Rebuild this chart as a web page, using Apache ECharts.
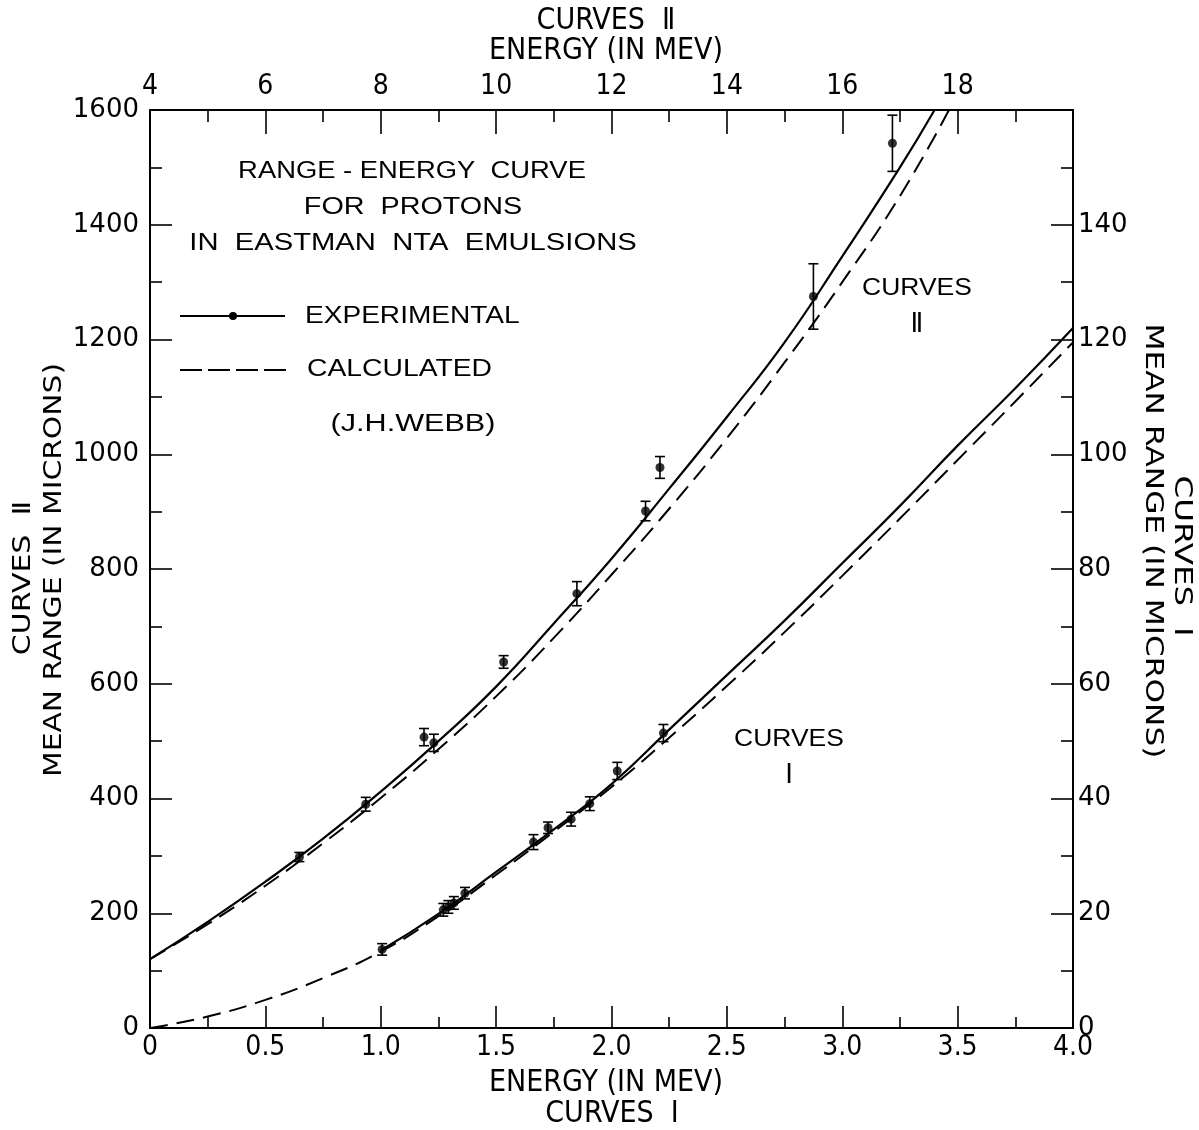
<!DOCTYPE html>
<html>
<head>
<meta charset="utf-8">
<script src="https://cdn.jsdelivr.net/npm/echarts@6/dist/echarts.min.js"></script>
<style>
html,body{margin:0;padding:0;background:#fff;}
#chart{width:1199px;height:1130px;}
</style>
</head>
<body>
<div id="chart"></div>
<script>
// ---------- DATA ----------
// Curves I : bottom energy axis (0-4 MeV), right range axis (0-160 microns)
const expI_E   = [1.006, 1.271, 1.293, 1.317, 1.365, 1.662, 1.725, 1.825, 1.906, 2.025, 2.225];
const expI_R   = [13.7, 20.6, 21.1, 21.8, 23.5, 32.4, 34.9, 36.4, 39.1, 44.8, 51.4];
const expI_err = [1.0, 1.1, 1.1, 1.1, 1.0, 1.3, 1.0, 1.2, 1.2, 1.5, 1.5];

const fitI_E = [1.0, 1.25, 1.5, 1.75, 2.0, 2.25, 2.5, 2.75, 3.0, 3.25, 3.5, 3.75, 4.0];
const fitI_R = [13.5, 19.9, 27.2, 34.6, 42.5, 52.0, 61.5, 71.0, 81.0, 91.0, 101.5, 111.5, 122.0];

const calcI_E = [0, 0.25, 0.5, 0.75, 1.0, 1.25, 1.5, 1.75, 2.0, 2.25, 2.5, 2.75, 3.0, 3.25, 3.5, 3.75, 4.0];
const calcI_R = [0, 2.0, 4.9, 8.7, 13.3, 19.5, 26.7, 34.2, 42.0, 50.6, 59.6, 69.0, 78.8, 88.8, 99.0, 109.2, 119.5];

// Curves II : top energy axis (4-20 MeV), left range axis (0-1600 microns)
const expII_E   = [6.59, 7.74, 8.75, 8.92, 10.13, 11.40, 12.59, 12.84, 15.50, 16.87];
const expII_R   = [298, 390, 507, 497, 638, 757, 901, 977, 1275, 1542];
const expII_err = [8, 12, 15, 15, 11, 21, 17, 19, 57, 49];

const fitII_E = [4, 5, 6, 7, 8, 9, 10, 11, 12, 13, 14, 15, 16, 17, 17.6];
const fitII_R = [120, 185, 255, 330, 412, 500, 595, 705, 818, 940, 1065, 1195, 1345, 1500, 1600];

const calcII_E = [4, 5, 6, 7, 8, 9, 10, 11, 12, 13, 14, 15, 16, 17, 17.85];
const calcII_R = [120, 181, 248, 322, 401, 486, 578, 680, 790, 905, 1028, 1160, 1300, 1450, 1600];

// tick labels
const bottomTicks = ['0', '0.5', '1.0', '1.5', '2.0', '2.5', '3.0', '3.5', '4.0'];
const topTicks = ['4', '6', '8', '10', '12', '14', '16', '18', ''];
const leftTicks = ['0', '200', '400', '600', '800', '1000', '1200', '1400', '1600'];
const rightTicks = ['0', '20', '40', '60', '80', '100', '120', '140', ''];

// ---------- CHART ----------
const zip = (a, b) => a.map((v, i) => [v, b[i]]);
const errData = (E, R, e) => E.map((v, i) => [v, R[i] - e[i], R[i] + e[i]]);

const geo = "'DejaVu Sans', 'Noto Sans', sans-serif";
const cond = "'DejaVu Sans Condensed', 'Liberation Sans Narrow', 'Liberation Sans', sans-serif";
const lett = "'Liberation Sans', 'DejaVu Sans', sans-serif";

function errRender(params, api) {
  const x = api.value(0);
  const lo = api.coord([x, api.value(1)]);
  const hi = api.coord([x, api.value(2)]);
  const w = 5;
  const st = { stroke: '#000', lineWidth: 1.6 };
  return {
    type: 'group',
    children: [
      { type: 'line', shape: { x1: lo[0], y1: lo[1], x2: hi[0], y2: hi[1] }, style: st },
      { type: 'line', shape: { x1: lo[0] - w, y1: lo[1], x2: lo[0] + w, y2: lo[1] }, style: st },
      { type: 'line', shape: { x1: hi[0] - w, y1: hi[1], x2: hi[0] + w, y2: hi[1] }, style: st }
    ]
  };
}

const axLine = { show: true, onZero: false, lineStyle: { color: '#000', width: 2 } };
const tick = (len) => ({ show: true, inside: true, length: len, lineStyle: { color: '#000', width: 1.6 } });
const minor = (len) => ({ show: true, splitNumber: 2, length: len, lineStyle: { color: '#000', width: 1.6 } });

const chart = echarts.init(document.getElementById('chart'), null, { renderer: 'canvas' });

function txt(x, y, s, font, opts) {
  return Object.assign({ type: 'text', x: x, y: y,
    style: { text: s, font: font, fill: '#000', align: 'center', verticalAlign: 'middle' } }, opts || {});
}

const option = {
  backgroundColor: '#fff',
  animation: false,
  grid: { left: 150, right: 126, top: 110, bottom: 102, containLabel: false },
  xAxis: [
    {
      type: 'value', position: 'bottom', min: 0, max: 4, interval: 0.5,
      axisLine: axLine, axisTick: tick(22), minorTick: minor(11), splitLine: { show: false },
      axisLabel: { color: '#000', fontFamily: cond, fontSize: 28, margin: 6,
        formatter: (v) => bottomTicks[Math.round(v / 0.5)] }
    },
    {
      type: 'value', position: 'top', min: 4, max: 20, interval: 2,
      axisLine: axLine, axisTick: tick(24), minorTick: minor(12), splitLine: { show: false },
      axisLabel: { color: '#000', fontFamily: cond, fontSize: 28, margin: 9,
        formatter: (v) => topTicks[Math.round((v - 4) / 2)] }
    }
  ],
  yAxis: [
    {
      type: 'value', position: 'left', min: 0, max: 1600, interval: 200,
      axisLine: axLine, axisTick: tick(22), minorTick: minor(12), splitLine: { show: false },
      axisLabel: { color: '#000', fontFamily: geo, fontSize: 26, margin: 11,
        formatter: (v) => leftTicks[Math.round(v / 200)] }
    },
    {
      type: 'value', position: 'right', min: 0, max: 160, interval: 20,
      axisLine: axLine, axisTick: tick(22), minorTick: minor(12), splitLine: { show: false },
      axisLabel: { color: '#000', fontFamily: geo, fontSize: 26, margin: 5,
        formatter: (v) => rightTicks[Math.round(v / 20)] }
    }
  ],
  series: [
    { name: 'calcI', type: 'line', xAxisIndex: 0, yAxisIndex: 1, data: zip(calcI_E, calcI_R),
      smooth: true, showSymbol: false, clip: true,
      lineStyle: { color: '#000', width: 2, type: [18, 9] } },
    { name: 'fitI', type: 'line', xAxisIndex: 0, yAxisIndex: 1, data: zip(fitI_E, fitI_R),
      smooth: true, showSymbol: false, clip: true,
      lineStyle: { color: '#000', width: 2.2 } },
    { name: 'calcII', type: 'line', xAxisIndex: 1, yAxisIndex: 0, data: zip(calcII_E, calcII_R),
      smooth: true, showSymbol: false, clip: true,
      lineStyle: { color: '#000', width: 2, type: [18, 9] } },
    { name: 'fitII', type: 'line', xAxisIndex: 1, yAxisIndex: 0, data: zip(fitII_E, fitII_R),
      smooth: true, showSymbol: false, clip: true,
      lineStyle: { color: '#000', width: 2.2 } },
    { name: 'errI', type: 'custom', xAxisIndex: 0, yAxisIndex: 1, renderItem: errRender,
      data: errData(expI_E, expI_R, expI_err), encode: { x: 0, y: [1, 2] }, z: 5 },
    { name: 'errII', type: 'custom', xAxisIndex: 1, yAxisIndex: 0, renderItem: errRender,
      data: errData(expII_E, expII_R, expII_err), encode: { x: 0, y: [1, 2] }, z: 5 },
    { name: 'expI', type: 'scatter', xAxisIndex: 0, yAxisIndex: 1, data: zip(expI_E, expI_R),
      symbol: 'circle', symbolSize: 9, itemStyle: { color: '#000' }, z: 6 },
    { name: 'expII', type: 'scatter', xAxisIndex: 1, yAxisIndex: 0, data: zip(expII_E, expII_R),
      symbol: 'circle', symbolSize: 9, itemStyle: { color: '#000' }, z: 6 }
  ],
  graphic: [
    // axis titles (top / bottom)
    txt(606, 21, 'CURVES  Ⅱ', '30px ' + cond),
    txt(606, 51, 'ENERGY (IN MEV)', '30px ' + cond),
    txt(606, 1083, 'ENERGY (IN MEV)', '30px ' + cond),
    txt(612, 1114, 'CURVES  Ⅰ', '30px ' + cond),
    // left titles
    txt(23, 578, 'CURVES  Ⅱ', '25px ' + geo, { rotation: Math.PI / 2, scaleX: 1.2 }),
    txt(54, 570, 'MEAN RANGE (IN MICRONS)', '25px ' + geo, { rotation: Math.PI / 2, scaleX: 1.19 }),
    // right titles
    txt(1152, 541, 'MEAN RANGE (IN MICRONS)', '25px ' + geo, { rotation: -Math.PI / 2, scaleX: 1.25 }),
    txt(1181, 556, 'CURVES  Ⅰ', '25px ' + geo, { rotation: -Math.PI / 2, scaleX: 1.3 }),
    // inner title / legend
    txt(412, 172, 'RANGE - ENERGY  CURVE', '23px ' + lett, { scaleX: 1.19 }),
    txt(413, 208, 'FOR  PROTONS', '23px ' + lett, { scaleX: 1.25 }),
    txt(413, 244, 'IN  EASTMAN  NTA  EMULSIONS', '23px ' + lett, { scaleX: 1.27 }),
    { type: 'line', shape: { x1: 180, y1: 316, x2: 285, y2: 316 }, style: { stroke: '#000', lineWidth: 2 } },
    { type: 'circle', shape: { cx: 233, cy: 316, r: 4 }, style: { fill: '#000' } },
    { type: 'text', x: 305, y: 317, scaleX: 1.22,
      style: { text: 'EXPERIMENTAL', font: '23px ' + lett, fill: '#000', verticalAlign: 'middle' } },
    { type: 'line', shape: { x1: 180, y1: 370, x2: 288, y2: 370 }, style: { stroke: '#000', lineWidth: 2, lineDash: [22, 6] } },
    { type: 'text', x: 307, y: 370, scaleX: 1.23,
      style: { text: 'CALCULATED', font: '23px ' + lett, fill: '#000', verticalAlign: 'middle' } },
    txt(413, 425, '(J.H.WEBB)', '23px ' + lett, { scaleX: 1.33 }),
    // curve labels
    txt(917, 289, 'CURVES', '23px ' + lett, { scaleX: 1.15 }),
    txt(917, 325, 'Ⅱ', '26px ' + lett),
    txt(789, 740, 'CURVES', '23px ' + lett, { scaleX: 1.15 }),
    txt(789, 776, 'Ⅰ', '26px ' + lett)
  ]
};
chart.setOption(option);
</script>
</body>
</html>
